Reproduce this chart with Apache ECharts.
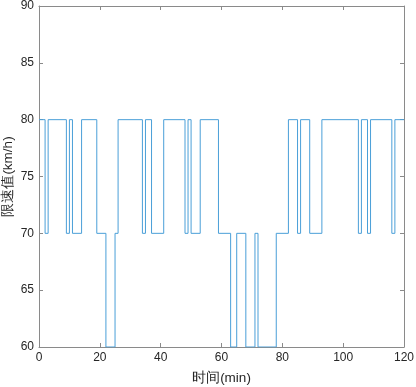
<!DOCTYPE html>
<html>
<head>
<meta charset="utf-8">
<script src="https://cdn.jsdelivr.net/npm/echarts@6/dist/echarts.min.js"></script>
<style>html,body{margin:0;padding:0;background:#fff;}#c{width:416px;height:387px;}</style>
</head>
<body>
<div id="c"></div>
<script>
// Segment start times (min) and speed limit values (km/h) for each segment
const segStart = [0, 2, 3, 9, 10, 11, 14, 19, 22, 25, 26, 34, 35, 37, 41, 48, 49, 50, 53, 59, 63, 65, 68, 71, 72, 78, 82, 85, 86, 89, 93, 105, 106, 108, 109, 116, 117];
const segValue = [80, 70, 80, 70, 80, 70, 80, 70, 60, 70, 80, 70, 80, 70, 80, 70, 80, 70, 80, 70, 60, 70, 60, 70, 60, 70, 80, 70, 80, 70, 80, 70, 80, 70, 80, 70, 80];
const endTime = 120;
const xTicks = [0, 20, 40, 60, 80, 100, 120];
const yTicks = [60, 65, 70, 75, 80, 85, 90];

const data = segStart.map((t, i) => [t, segValue[i]]);
data.push([endTime, segValue[segValue.length - 1]]);

const font = "'Liberation Sans', Arial, sans-serif";
const axisColor = '#8a8a8a';
const textColor = '#262626';

const chart = echarts.init(document.getElementById('c'), null, {renderer: 'canvas'});
const baseX = {
  type: 'value', min: xTicks[0], max: xTicks[xTicks.length - 1], interval: 20,
  axisLine: {show: true, onZero: false, lineStyle: {color: axisColor, width: 1}},
  axisTick: {show: true, inside: true, length: 4, lineStyle: {color: axisColor}},
  splitLine: {show: false}
};
const baseY = {
  type: 'value', min: yTicks[0], max: yTicks[yTicks.length - 1], interval: 5,
  axisLine: {show: true, onZero: false, lineStyle: {color: axisColor, width: 1}},
  axisTick: {show: true, inside: true, length: 4, lineStyle: {color: axisColor}},
  splitLine: {show: false}
};
chart.setOption({
  animation: false,
  backgroundColor: '#fff',
  grid: {left: 39, right: 12, top: 6, bottom: 40, containLabel: false, outerBoundsMode: 'none'},
  xAxis: [
    Object.assign({}, baseX, {
      position: 'bottom',
      name: '时间(min)', nameLocation: 'middle', nameGap: 24, nameMoveOverlap: false,
      nameTextStyle: {color: textColor, fontSize: 13.5, fontFamily: font},
      axisLabel: {color: textColor, fontSize: 12, fontFamily: font, margin: 5}
    }),
    Object.assign({}, baseX, {position: 'top', axisLabel: {show: false}})
  ],
  yAxis: [
    Object.assign({}, baseY, {
      position: 'left',
      name: '限速值(km/h)', nameLocation: 'middle', nameGap: 24, nameMoveOverlap: false,
      nameTextStyle: {color: textColor, fontSize: 13.5, fontFamily: font},
      axisLabel: {color: textColor, fontSize: 12, fontFamily: font, margin: 5}
    }),
    Object.assign({}, baseY, {position: 'right', axisLabel: {show: false}})
  ],
  series: [{
    type: 'line', step: 'end', data: data, xAxisIndex: 0, yAxisIndex: 0,
    showSymbol: false, symbol: 'none',
    lineStyle: {color: '#4a9fd8', width: 1}
  }]
});
</script>
</body>
</html>
